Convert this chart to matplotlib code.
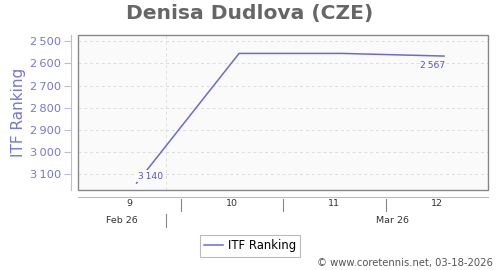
import datetime as dt
import matplotlib
matplotlib.use('Agg')
import matplotlib.pyplot as plt
import matplotlib.dates as mdates
import matplotlib.transforms as mtransforms
from matplotlib.patches import Rectangle

# ranking data (weekly)
dates = [dt.datetime(2026, 2, 27), dt.datetime(2026, 3, 6),
         dt.datetime(2026, 3, 13), dt.datetime(2026, 3, 20)]
ranks = [3140, 2555, 2555, 2567]
week_nums = [9, 10, 11, 12]
week_starts = [dt.datetime(2026, 2, 23), dt.datetime(2026, 3, 2),
               dt.datetime(2026, 3, 9), dt.datetime(2026, 3, 16)]
month_labels = ['Feb 26', 'Mar 26']
month_pos = [dt.datetime(2026, 2, 26), dt.datetime(2026, 3, 16, 12)]
month_break = dt.datetime(2026, 3, 1)
y_ticks = [2500, 2600, 2700, 2800, 2900, 3000, 3100]

line_col = '#6b6bcf'
lav = '#7777cc'

fig = plt.figure(figsize=(5, 2.7), dpi=100)
ax = fig.add_axes([78/500, 1-190/270, 410/500, 155/270])
ax.set_facecolor('#fafafa')

x0 = dt.datetime(2026, 2, 23)
x1 = dt.datetime(2026, 3, 23)
ax.set_xlim(x0, x1)
ax.set_ylim(3171, 2472)

ax.plot(dates, ranks, color=line_col, lw=1.1, zorder=3)

# grid
ax.set_yticks(y_ticks)
ax.set_yticklabels([f'{v:,}'.replace(',', '\u2009') for v in y_ticks])
ax.grid(axis='y', color='#dddddd', ls=(0, (3, 3)), lw=0.7)
ax.axvline(month_break, color='#dddddd', ls=(0, (3, 3)), lw=0.7)

# frame
for s in ['top', 'right']:
    ax.spines[s].set_visible(False)
ax.add_patch(Rectangle((0, 0), 1, 1, transform=ax.transAxes, fill=False,
                       ec='#888888', lw=1, clip_on=False, zorder=4))
ax.spines['left'].set_position(('outward', 5))
ax.spines['left'].set_color('#bbbbe6')
ax.spines['bottom'].set_position(('outward', 5))
ax.spines['bottom'].set_color('#bbbbbb')
ax.tick_params(axis='y', colors='#bbbbe6', length=5, pad=2,
               labelcolor=lav, labelsize=8.2)
ax.set_xticks([])
ax.set_ylabel('ITF Ranking', color=lav, fontsize=11, labelpad=3)

# week / month labels under the axis
tr = mtransforms.blended_transform_factory(ax.transData, ax.transAxes)
for w, ws in zip(week_nums, week_starts):
    ax.text(ws + dt.timedelta(days=3.5), -0.09, str(w), transform=tr,
            ha='center', va='center', fontsize=6.8, color='#333333')
for ws in week_starts[1:]:
    ax.plot([ws, ws], [-0.058, -0.135], transform=tr, color='#888888',
            lw=0.8, clip_on=False)
for lbl, mp in zip(month_labels, month_pos):
    ax.text(mp, -0.198, lbl, transform=tr, ha='center', va='center',
            fontsize=6.8, color='#333333')
ax.plot([month_break, month_break], [-0.155, -0.239], transform=tr,
        color='#888888', lw=0.8, clip_on=False)

# point labels
ax.annotate(f'{ranks[0]:,}'.replace(',', '\u2009'), (dates[0], ranks[0]),
            xytext=(1, 5), textcoords='offset points', ha='left', va='center',
            fontsize=6.6, color='#5858b8', zorder=5,
            bbox=dict(boxstyle='square,pad=0.15', fc='#fafafa', ec='none'))
ax.annotate(f'{ranks[-1]:,}'.replace(',', '\u2009'), (dates[-1], ranks[-1]),
            xytext=(0.5, -6.5), textcoords='offset points', ha='right',
            va='center', fontsize=6.6, color='#5858b8', zorder=5)

fig.text(0.5, 1-14/270, 'Denisa Dudlova (CZE)', ha='center', va='center',
         fontsize=14.6, fontweight='bold', color='#666666')

leg = fig.legend(['ITF Ranking'], loc='center', bbox_to_anchor=(0.5, 1-246/270),
                 fontsize=8.4, frameon=True, fancybox=False, handlelength=1.6,
                 borderpad=0.4, handletextpad=0.4)
leg.get_frame().set_edgecolor('#aaaaaa')
leg.get_frame().set_linewidth(0.8)

fig.text(493/500, 1-263/270, '\u00a9 www.coretennis.net, 03-18-2026',
         ha='right', va='center', fontsize=7.2, color='#555555')

fig.savefig('out.png', dpi=100)
